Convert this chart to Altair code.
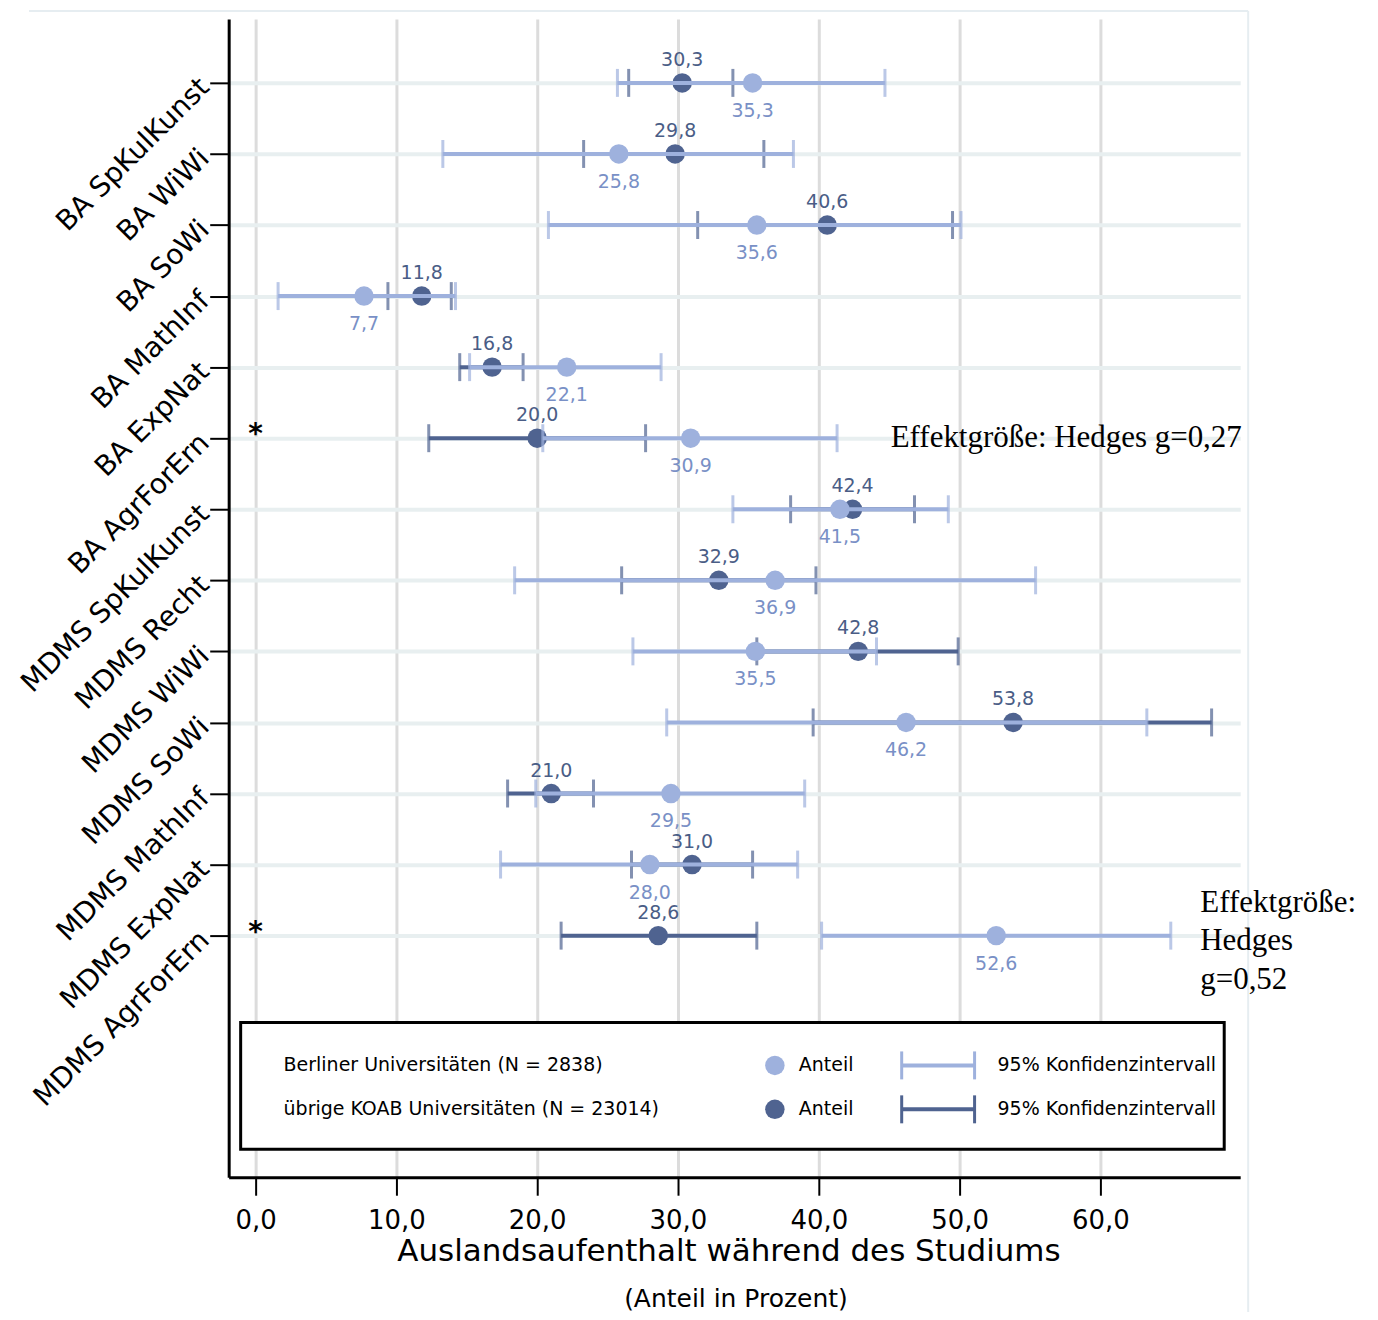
import altair as alt
import pandas as pd

# ---------------- data ----------------
categories = ["BA SpKulKunst", "BA WiWi", "BA SoWi", "BA MathInf", "BA ExpNat", "BA AgrForErn",
              "MDMS SpKulKunst", "MDMS Recht", "MDMS WiWi", "MDMS SoWi", "MDMS MathInf",
              "MDMS ExpNat", "MDMS AgrForErn"]
berlin_mean = [35.3, 25.8, 35.6, 7.7, 22.1, 30.9, 41.5, 36.9, 35.5, 46.2, 29.5, 28.0, 52.6]
berlin_lo = [25.7, 13.3, 20.8, 1.6, 15.2, 20.4, 33.9, 18.4, 26.8, 29.2, 19.9, 17.4, 40.2]
berlin_hi = [44.7, 38.2, 50.1, 14.2, 28.8, 41.3, 49.2, 55.4, 44.1, 63.3, 39.0, 38.5, 65.0]
other_mean = [30.3, 29.8, 40.6, 11.8, 16.8, 20.0, 42.4, 32.9, 42.8, 53.8, 21.0, 31.0, 28.6]
other_lo = [26.5, 23.3, 31.4, 9.4, 14.5, 12.3, 38.0, 26.0, 35.6, 39.6, 17.9, 26.7, 21.7]
other_hi = [33.9, 36.1, 49.5, 13.9, 19.0, 27.7, 46.8, 39.8, 49.9, 67.9, 24.0, 35.3, 35.6]
star_rows = ["BA AgrForErn", "MDMS AgrForErn"]
x_ticks = [0, 10, 20, 30, 40, 50, 60]
effect_1 = "Effektgröße: Hedges g=0,27"
effect_2 = ["Effektgröße:", "Hedges", "g=0,52"]
legend_groups = ["Berliner Universitäten (N = 2838)", "übrige KOAB Universitäten (N = 23014)"]
x_title = "Auslandsaufenthalt während des Studiums"
x_subtitle = "(Anteil in Prozent)"

LIGHT = "#9eb1dd"
DARK = "#4f6390"
LIGHT_TXT = "#7990c6"
DARK_TXT = "#4a5d86"
FONT = "DejaVu Sans"
SERIF = "Liberation Serif"

W, H = 1013, 1160


def frame(mean, lo, hi):
    return pd.DataFrame({
        "cat": categories,
        "row": list(range(1, len(categories) + 1)),
        "mean": mean, "lo": lo, "hi": hi,
        "label": [f"{v:.1f}".replace(".", ",") for v in mean],
    })


df_b = frame(berlin_mean, berlin_lo, berlin_hi)
df_o = frame(other_mean, other_lo, other_hi)
df_star = pd.DataFrame({"row": [categories.index(c) + 1 for c in star_rows]})

x_scale = alt.Scale(domain=[-1.91, 69.93], nice=False, zero=False)
y_scale = alt.Scale(domain=[0.1, 16.4], reverse=True, nice=False, zero=False)

label_expr_y = "[" + ",".join("'" + c + "'" for c in categories) + "][datum.value - 1]"

x_axis = alt.Axis(values=x_ticks, labelExpr="replace(format(datum.value, '.1f'), '.', ',')",
                  grid=True, gridColor="#dcdcdc", gridWidth=3,
                  domainColor="black", domainWidth=3, tickColor="black", tickWidth=2, tickSize=18,
                  labelFont=FONT, labelFontSize=26, labelColor="black", labelPadding=12, title=None)
y_axis = alt.Axis(values=list(range(1, len(categories) + 1)), labelExpr=label_expr_y,
                  grid=True, gridColor="#e8eff0", gridWidth=4,
                  domainColor="black", domainWidth=3, tickColor="black", tickWidth=2, tickSize=19,
                  labelAngle=315, labelAlign="right", labelBaseline="middle",
                  labelFont=FONT, labelFontSize=28, labelColor="black", labelPadding=5,
                  labelLimit=0, labelOverlap=False, title=None)


def X(field):
    return alt.X(field, type="quantitative", scale=x_scale, axis=x_axis)


def Y():
    return alt.Y("row:Q", scale=y_scale, axis=y_axis)


def series_layers(df, color):
    base = alt.Chart(df)
    rule = base.mark_rule(color=color, strokeWidth=4).encode(x=X("lo"), x2="hi", y=Y())
    tlo = base.mark_tick(orient="vertical", color=color, size=28, thickness=3).encode(x=X("lo"), y=Y())
    thi = base.mark_tick(orient="vertical", color=color, size=28, thickness=3).encode(x=X("hi"), y=Y())
    return rule, tlo, thi


def dots(df, color):
    return alt.Chart(df).mark_circle(color=color, size=380, opacity=1).encode(x=X("mean"), y=Y())


dummy = pd.DataFrame({"a": [0]})

# faint outer frame of the original figure (drawn first, behind everything)
layers = [
    alt.Chart(dummy).mark_rule(color="#e6edf1", strokeWidth=2).encode(
        x=alt.value(1021), y=alt.value(-8), y2=alt.value(1300)),
    alt.Chart(dummy).mark_rule(color="#e6edf1", strokeWidth=2).encode(
        x=alt.value(-200), x2=alt.value(1021), y=alt.value(-8)),
]

o_rule, o_tlo, o_thi = series_layers(df_o, DARK)
b_rule, b_tlo, b_thi = series_layers(df_b, LIGHT)

o_lab = alt.Chart(df_o).mark_text(font=FONT, fontSize=19, color=DARK_TXT, dy=-23,
                                  baseline="middle").encode(x=X("mean"), y=Y(), text="label:N")
b_lab = alt.Chart(df_b).mark_text(font=FONT, fontSize=19, color=LIGHT_TXT, dy=28,
                                  baseline="middle").encode(x=X("mean"), y=Y(), text="label:N")

stars = alt.Chart(df_star).mark_text(text="*", font=FONT, fontSize=28, fontWeight="bold",
                                     color="black", baseline="middle", dy=-3).encode(
    x=alt.X("z:Q", scale=x_scale, axis=x_axis), y=Y()).transform_calculate(z="0")

eff1 = alt.Chart(pd.DataFrame({"row": [categories.index("BA AgrForErn") + 1], "t": [effect_1]})).mark_text(
    font=SERIF, fontSize=31, color="black", align="left", baseline="middle").encode(
    x=alt.value(663), y=Y(), text="t:N")

layers += [o_rule, o_tlo, o_thi, dots(df_o, DARK), b_rule, b_tlo, b_thi, dots(df_b, LIGHT),
           o_lab, b_lab, stars, eff1]

for i, line in enumerate(effect_2):
    layers.append(alt.Chart(pd.DataFrame({"t": [line]})).mark_text(
        font=SERIF, fontSize=31, color="black", align="left", baseline="middle").encode(
        x=alt.value(973), y=alt.value(885 + 38.5 * i), text="t:N"))

# axis title lines
layers.append(alt.Chart(pd.DataFrame({"t": [x_title]})).mark_text(
    font=FONT, fontSize=31, color="black", baseline="middle").encode(
    x=alt.value(501), y=alt.value(1235), text="t:N"))
layers.append(alt.Chart(pd.DataFrame({"t": [x_subtitle]})).mark_text(
    font=FONT, fontSize=25, color="black", baseline="middle").encode(
    x=alt.value(508), y=alt.value(1282), text="t:N"))

# legend box
layers.append(alt.Chart(dummy).mark_rect(fill="white", stroke="black", strokeWidth=3).encode(
    x=alt.value(12), x2=alt.value(997), y=alt.value(1005), y2=alt.value(1132)))
for label, col, py in zip(legend_groups, [LIGHT, DARK], [1048, 1092]):
    layers.append(alt.Chart(pd.DataFrame({"t": [label]})).mark_text(
        font=FONT, fontSize=19, color="black", align="left", baseline="middle").encode(
        x=alt.value(55), y=alt.value(py), text="t:N"))
    layers.append(alt.Chart(dummy).mark_circle(color=col, size=380, opacity=1).encode(
        x=alt.value(547), y=alt.value(py)))
    layers.append(alt.Chart(pd.DataFrame({"t": ["Anteil"]})).mark_text(
        font=FONT, fontSize=19, color="black", align="left", baseline="middle").encode(
        x=alt.value(571), y=alt.value(py), text="t:N"))
    layers.append(alt.Chart(dummy).mark_rule(color=col, strokeWidth=4).encode(
        x=alt.value(674), x2=alt.value(747), y=alt.value(py)))
    for px in (674, 747):
        layers.append(alt.Chart(dummy).mark_rule(color=col, strokeWidth=3).encode(
            x=alt.value(px), y=alt.value(py - 14), y2=alt.value(py + 14)))
    layers.append(alt.Chart(pd.DataFrame({"t": ["95% Konfidenzintervall"]})).mark_text(
        font=FONT, fontSize=19, color="black", align="left", baseline="middle").encode(
        x=alt.value(770), y=alt.value(py), text="t:N"))

chart = alt.layer(*layers).properties(
    width=W, height=H,
    autosize=alt.AutoSizeParams(type="none"),
    padding={"left": 221, "top": 10, "right": 130, "bottom": 134},
).configure_view(stroke=None)

chart.save("out.html", embed_options={"renderer": "svg", "actions": False})
